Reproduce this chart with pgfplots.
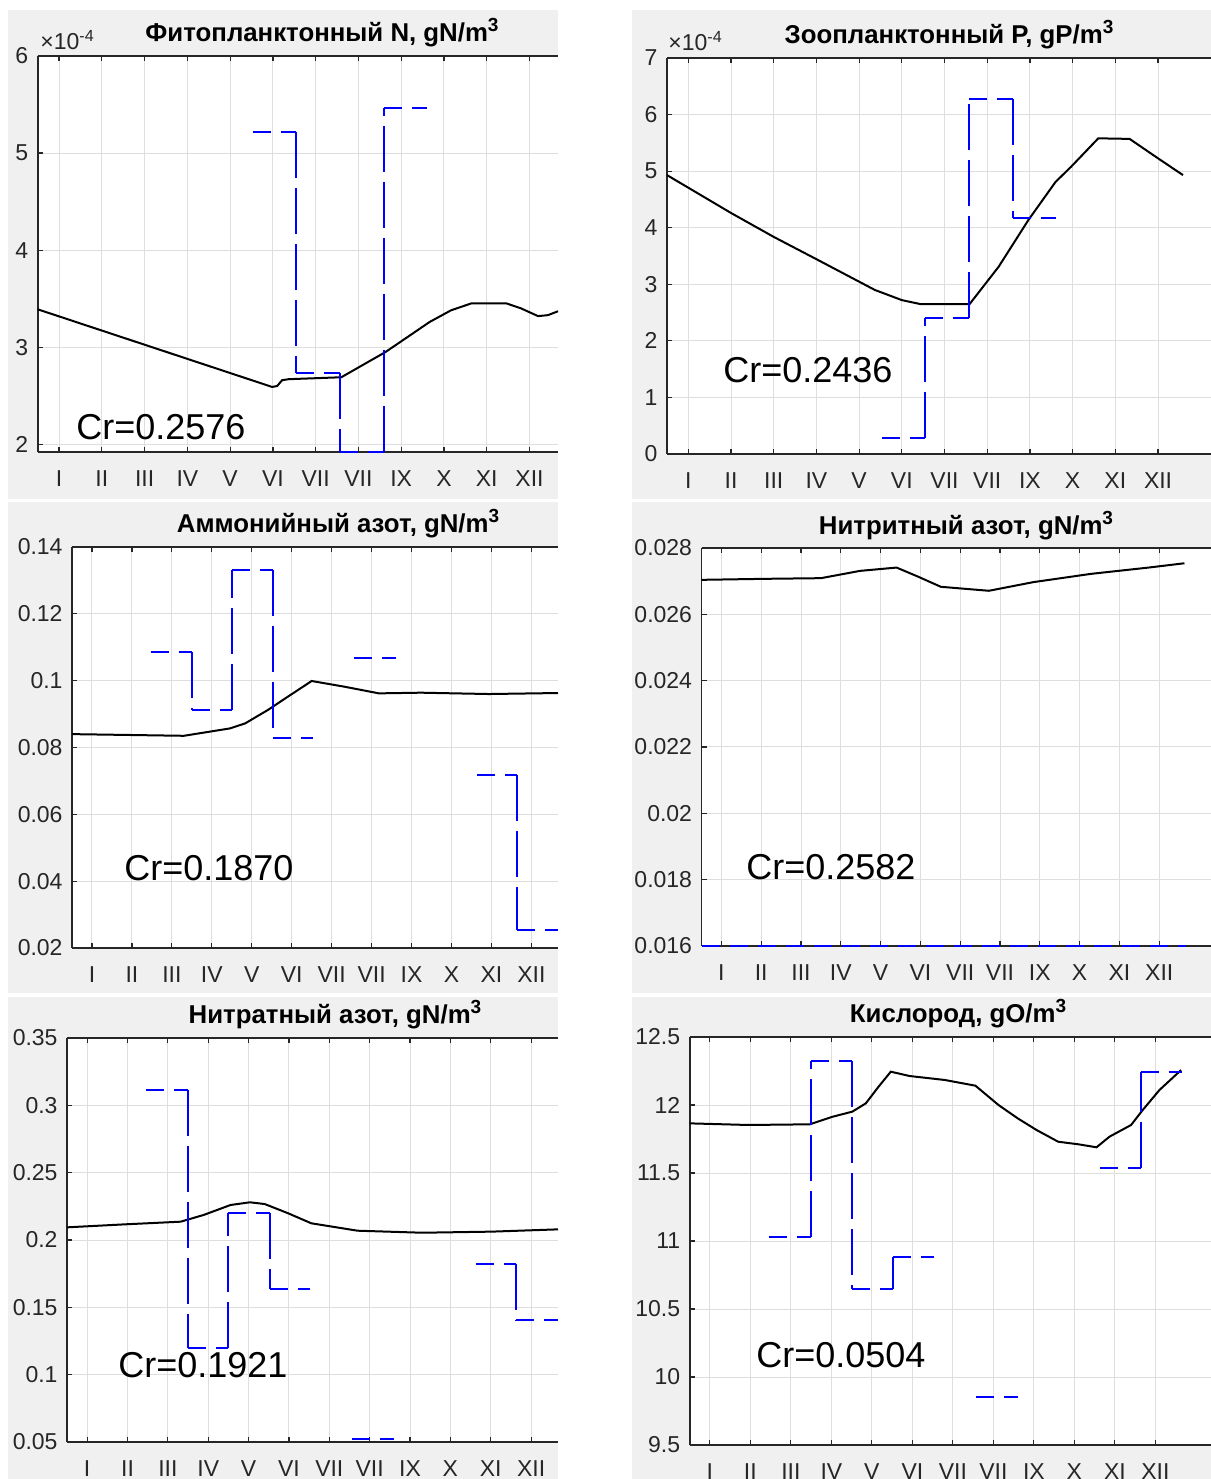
\documentclass[border=0pt]{standalone}
\usepackage{fontspec}
\setmainfont{Liberation Sans}
\usepackage{pgfplots}
\pgfplotsset{compat=1.18}

\definecolor{panelgray}{HTML}{F0F0F0}
\definecolor{axgray}{HTML}{262626}
\definecolor{gridgray}{HTML}{DEDEDE}

\pgfplotsset{
  panel/.style={
    scale only axis, anchor=south west,
    xmin=0,
    axis background/.style={fill=white},
    axis x line=box, axis y line=left,
    axis line style={-, draw=axgray, line width=0.9pt},
    tick align=inside,
    xtick={15,45,...,345},
    xticklabels={I,II,III,IV,V,VI,VII,VII,IX,X,XI,XII},
    ytick pos=left,
    scaled y ticks=false,
    major tick length=2.5pt,
    tick style={draw=axgray, line width=0.6pt},
    grid=major,
    major grid style={draw=gridgray, line width=0.5pt},
    tick label style={font=\fontsize{11.5}{13}\selectfont, text=axgray},
    xticklabel style={yshift=-6pt},
    yticklabel style={xshift=-1.2pt},
    clip=false,
    unbounded coords=jump,
  },
  model/.style={black, line width=1pt, no marks},
  obsh/.style={blue, line width=1pt, dash pattern=on 9pt off 5pt, no marks},
  obsv/.style={blue, line width=1pt, dash pattern=on 23pt off 5pt, no marks},
}

\newcommand{\ttl}[1]{\fontsize{12.9}{14}\selectfont\bfseries #1}
\newcommand{\cube}{\raisebox{5.2pt}{\fontsize{9.5}{10}\selectfont\bfseries 3}}
\newcommand{\crfont}{\fontsize{18}{20}\selectfont}

\begin{document}
\begin{tikzpicture}
\useasboundingbox (0,0) rectangle (605.5pt,739.5pt);
\fill[white] (0,0) rectangle (605.5pt,739.5pt);
% panel backgrounds
\fill[panelgray] (4pt,490pt) rectangle (279pt,734.5pt);
\fill[panelgray] (316pt,490pt) rectangle (605.5pt,734.5pt);
\fill[panelgray] (4pt,243pt) rectangle (279pt,488.5pt);
\fill[panelgray] (316pt,243pt) rectangle (605.5pt,488.5pt);
\fill[panelgray] (4pt,0pt) rectangle (279pt,241pt);
\fill[panelgray] (316pt,0pt) rectangle (605.5pt,241pt);

% 1: phytoplankton N (x 1e-4)
\begin{axis}[panel, at={(18.85pt,513.5pt)}, width=260.15pt, height=198pt,
  xmax=365, ymin=1.92, ymax=6,
  ytick={2,3,4,5,6}, yticklabels={2,3,4,5,6}]
\addplot[model] coordinates {(0,3.39) (164.5,2.59) (168,2.60) (171.5,2.66) (176,2.67)
  (213,2.69) (244,2.95) (275,3.26) (290,3.38) (304,3.45) (329,3.45) (339,3.40)
  (351,3.32) (358,3.33) (365,3.37)};
\addplot[obsh] coordinates {(151,5.22) (181,5.22) (181,nan) (181,2.73) (212,2.73)
  (212,nan) (212,1.92) (243,1.92) (243,nan) (243,5.46) (273,5.46)};
\addplot[obsv] coordinates {(181,5.22) (181,2.73) (181,nan) (212,2.73) (212,1.92)
  (212,nan) (243,1.92) (243,5.46)};
\end{axis}

% 2: zooplankton P (x 1e-4)
\begin{axis}[panel, at={(333.5pt,512.5pt)}, width=272pt, height=198pt,
  xmax=382.2, ymin=0, ymax=7,
  ytick={0,1,2,3,4,5,6,7}, yticklabels={0,1,2,3,4,5,6,7}]
\addplot[model] coordinates {(0,4.93) (45,4.26) (74.8,3.84) (106,3.43) (146,2.90)
  (165,2.72) (178,2.65) (212.6,2.65) (233,3.31) (254,4.14) (273,4.81) (284,5.08)
  (303,5.58) (325,5.57) (343.6,5.25) (362.5,4.93)};
\addplot[obsh] coordinates {(151,0.28) (181,0.28) (181,nan) (181,2.40) (212,2.40)
  (212,nan) (212,6.27) (243,6.27) (243,nan) (243,4.17) (273,4.17)};
\addplot[obsv] coordinates {(181,0.28) (181,2.40) (181,nan) (212,2.40) (212,6.27)
  (212,nan) (243,6.27) (243,4.17)};
\end{axis}

% 3: ammonium N
\begin{axis}[panel, at={(36pt,265.5pt)}, width=243pt, height=200.5pt,
  xmax=365, ymin=0.02, ymax=0.14,
  ytick={0.02,0.04,0.06,0.08,0.1,0.12,0.14},
  yticklabels={0.02,0.04,0.06,0.08,0.1,0.12,0.14}]
\addplot[model] coordinates {(0,0.0840) (84,0.0835) (118.5,0.0857) (130,0.0872)
  (147,0.0912) (164,0.0957) (180,0.0999) (204.5,0.0982) (230.5,0.0962)
  (262,0.0964) (313,0.0960) (365,0.0963)};
\addplot[obsh] coordinates {(59,0.1085) (90,0.1085) (90,nan) (90,0.0912) (120,0.0912)
  (120,nan) (120,0.1331) (151,0.1331) (151,nan) (151,0.0829) (181,0.0829)
  (181,nan) (212,0.1069) (243,0.1069) (243,nan) (304,0.0718) (334,0.0718)
  (334,nan) (334,0.0254) (365,0.0254)};
\addplot[obsv] coordinates {(90,0.1085) (90,0.0912) (90,nan) (120,0.0912) (120,0.1331)
  (120,nan) (151,0.1331) (151,0.0829) (151,nan) (334,0.0718) (334,0.0254)};
\end{axis}

% 4: nitrite N
\begin{axis}[panel, at={(350.75pt,266.5pt)}, width=254.75pt, height=199pt,
  xmax=384, ymin=0.016, ymax=0.028,
  ytick={0.016,0.018,0.020,0.022,0.024,0.026,0.028},
  yticklabels={0.016,0.018,0.02,0.022,0.024,0.026,0.028}]
\addplot[model] coordinates {(0,0.02704) (47,0.02707) (90,0.02709) (119.5,0.02731)
  (147,0.02741) (163,0.02714) (180.4,0.02683) (216.6,0.02671) (250,0.02697)
  (293.5,0.02722) (337,0.02741) (364,0.02754)};
\addplot[obsh] coordinates {(0,0.016) (365,0.016)};
\end{axis}

% 5: nitrate N
\begin{axis}[panel, at={(33.5pt,18.5pt)}, width=245.5pt, height=202pt,
  xmax=365, ymin=0.05, ymax=0.35,
  ytick={0.05,0.1,0.15,0.2,0.25,0.3,0.35},
  yticklabels={0.05,0.1,0.15,0.2,0.25,0.3,0.35}]
\addplot[model] coordinates {(0,0.2094) (44.5,0.2117) (84.5,0.2136) (101.6,0.2186)
  (121.6,0.2260) (136,0.2280) (147,0.2267) (164.5,0.2198) (181.6,0.2124)
  (216,0.2069) (264,0.2054) (315.6,0.2062) (365,0.2079)};
\addplot[obsh] coordinates {(59,0.3114) (90,0.3114) (90,nan) (90,0.1196) (120,0.1196)
  (120,nan) (120,0.2203) (151,0.2203) (151,nan) (151,0.1636) (181,0.1636)
  (181,nan) (212,0.0522) (243,0.0522) (243,nan) (304,0.1822) (334,0.1822)
  (334,nan) (334,0.1406) (365,0.1406)};
\addplot[obsv] coordinates {(90,0.3114) (90,0.1196) (90,nan) (120,0.1196) (120,0.2203)
  (120,nan) (151,0.2203) (151,0.1636) (151,nan) (334,0.1822) (334,0.1406)};
\end{axis}

% 6: oxygen
\begin{axis}[panel, at={(344.8pt,17pt)}, width=260.7pt, height=204pt,
  xmax=386.2, ymin=9.5, ymax=12.5,
  ytick={9.5,10,10.5,11,11.5,12,12.5},
  yticklabels={9.5,10,10.5,11,11.5,12,12.5}]
\addplot[model] coordinates {(0,11.865) (43.6,11.853) (89,11.858) (106,11.914)
  (120.5,11.951) (130.5,12.012) (140,12.135) (149,12.245) (163,12.213)
  (189,12.184) (211.7,12.142) (228.8,12.0) (243,11.902) (257,11.816)
  (273,11.730) (288,11.711) (301.4,11.689) (311,11.767) (327,11.853)
  (335.6,11.963) (348,12.11) (364,12.257)};
\addplot[obsh] coordinates {(59,11.027) (90,11.027) (90,nan) (90,12.32) (120,12.32)
  (120,nan) (120,10.647) (151,10.647) (151,nan) (151,10.88) (181,10.88)
  (181,nan) (212,9.851) (243,9.851) (243,nan) (304,11.534) (334,11.534)
  (334,nan) (334,12.245) (365,12.245)};
\addplot[obsv] coordinates {(90,11.027) (90,12.32) (90,nan) (120,12.32) (120,10.647)
  (120,nan) (151,10.647) (151,10.88) (151,nan) (334,11.534) (334,12.245)};
\end{axis}

% titles
\node[anchor=base, inner sep=0pt] at (161pt,718.5pt) {\ttl{Фитопланктонный N, gN/m\cube}};
\node[anchor=base, inner sep=0pt] at (474.5pt,717.75pt) {\ttl{Зоопланктонный P, gP/m\cube}};
\node[anchor=base, inner sep=0pt] at (169pt,473pt) {\ttl{Аммонийный азот, gN/m\cube}};
\node[anchor=base, inner sep=0pt] at (483pt,472pt) {\ttl{Нитритный азот, gN/m\cube}};
\node[anchor=base, inner sep=0pt] at (167.5pt,227.75pt) {\ttl{Нитратный азот, gN/m\cube}};
\node[anchor=base, inner sep=0pt] at (479pt,228pt) {\ttl{Кислород, gO/m\cube}};

% exponent labels
\node[anchor=base west, inner sep=0pt, text=axgray] at (20pt,714.5pt) {\fontsize{11.5}{13}\selectfont ×10\textsuperscript{-4}};
\node[anchor=base west, inner sep=0pt, text=axgray] at (334pt,714pt) {\fontsize{11.5}{13}\selectfont ×10\textsuperscript{-4}};

% Cr annotations
\node[anchor=base west, inner sep=0pt] at (38pt,519.5pt) {\crfont Cr=0.2576};
\node[anchor=base west, inner sep=0pt] at (361.5pt,548pt) {\crfont Cr=0.2436};
\node[anchor=base west, inner sep=0pt] at (62pt,299pt) {\crfont Cr=0.1870};
\node[anchor=base west, inner sep=0pt] at (373pt,299.5pt) {\crfont Cr=0.2582};
\node[anchor=base west, inner sep=0pt] at (59pt,50.5pt) {\crfont Cr=0.1921};
\node[anchor=base west, inner sep=0pt] at (378pt,55.5pt) {\crfont Cr=0.0504};
\end{tikzpicture}
\end{document}
